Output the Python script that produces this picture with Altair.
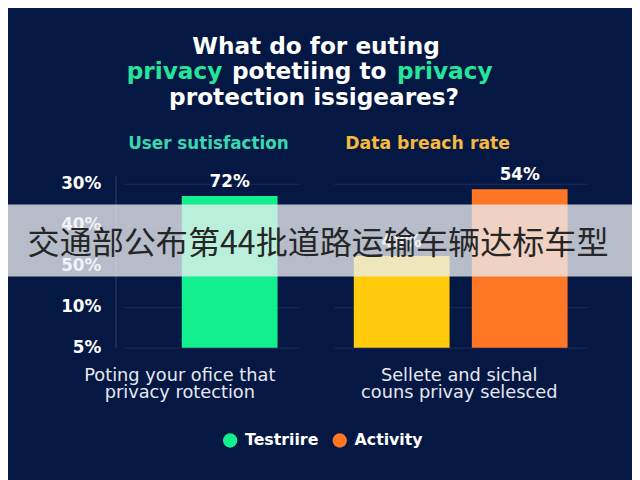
import altair as alt
import pandas as pd

BG = "#051843"

# ---- data ----
panels = ["left", "right", "right"]
series = ["Testriire", "Other", "Activity"]
bar_values = [3.71, 2.24, 3.87]          # heights in axis-step units
bar_labels = ["72%", "48%", "54%"]
bar_colors = ["#12ef8e", "#ffcb0b", "#ff7624"]
y_ticks = [0, 1, 2, 3, 4]
y_tick_labels = ["5%", "10%", "50%", "40%", "30%"]
title_line1 = "What do for euting"
title_line2 = ["privacy", "potetiing to", "privacy"]
title_line3 = "protection issigeares?"
subtitles = ["User sutisfaction", "Data breach rate"]
x_labels_left = ["Poting your ofice that", "privacy rotection"]
x_labels_right = ["Sellete and sichal", "couns privay selesced"]
legend_names = ["Testriire", "Activity"]
banner_text = "交通部公布第44批道路运输车辆达标车型"

df = pd.DataFrame({"panel": panels, "series": series,
                   "value": bar_values, "label": bar_labels})
one = pd.DataFrame({"k": [0]})

W_L, W_R, H = 178, 257, 174
ydom = [0, 4.2]
label_expr = "[" + ",".join("'%s'" % t for t in y_tick_labels) + "][datum.value]"

color_scale = alt.Scale(domain=series, range=bar_colors)
legend = alt.Legend(values=legend_names, orient="none", legendX=100, legendY=260,
                    direction="horizontal", symbolType="circle", symbolSize=210,
                    symbolStrokeWidth=0, title=None, labelColor="white",
                    labelFont="DejaVu Sans", labelFontWeight="bold", labelFontSize=16,
                    labelOffset=7, columnPadding=13, padding=0)

FONT = "DejaVu Sans"


def txt(text, x, y, color="white", size=16, bold=True, align="center",
        baseline="alphabetic", font=FONT):
    return alt.Chart(one).mark_text(
        text=text, color=color, fontSize=size,
        fontWeight="bold" if bold else "normal", align=align,
        baseline=baseline, font=font
    ).encode(x=alt.value(x), y=alt.value(y))


def panel(name, width, axis, pad_outer, align):
    base = alt.Chart(df).transform_filter(f"datum.panel == '{name}'")
    x = alt.X("series:N", sort=series, axis=None,
              scale=alt.Scale(paddingInner=0, paddingOuter=pad_outer, align=align))
    y = alt.Y("value:Q", scale=alt.Scale(domain=ydom, nice=False, zero=True), axis=axis)
    bars = base.mark_bar(size=97).encode(
        x=x, y=y, color=alt.Color("series:N", scale=color_scale, legend=legend))
    labels = base.mark_text(dy=-5, baseline="bottom", color="white", font=FONT,
                            fontWeight="bold", fontSize=17).encode(
        x=x, y=alt.Y("value:Q", scale=alt.Scale(domain=ydom, nice=False)), text="label:N")
    return bars, labels


axis_left = alt.Axis(values=y_ticks, labelExpr=label_expr, offset=8, ticks=False,
                     tickSize=0, labelPadding=15, domain=True, domainColor="#22345f",
                     domainWidth=1.5, grid=True, gridColor="#1b2d5a", labelColor="white",
                     labelFont=FONT, labelFontWeight="bold", labelFontSize=17, title=None)
axis_right = alt.Axis(values=y_ticks, labels=False, ticks=False, domain=False,
                      grid=True, gridColor="#1b2d5a", title=None)

bars_l, labels_l = panel("left", W_L, axis_left, 0.5, 0.708)
bars_r, labels_r = panel("right", W_R, axis_right, 0.075, 0.5)

# invisible frame that fixes the overall extent of the drawing
frame = alt.Chart(one).mark_rect(color=BG, opacity=0).encode(
    x=alt.value(-117), x2=alt.value(515), y=alt.value(-167), y2=alt.value(305))

GREEN_T = "#25e59c"
XL_COLOR = "#e6e8ef"
left_texts = [
    txt(title_line1, 195, -123, size=23.5),
    txt(title_line2[0], 100, -98, color=GREEN_T, size=23.5, align="right"),
    txt(title_line2[1], 188, -98, size=23.5),
    txt(title_line2[2], 277, -98, color=GREEN_T, size=23.5, align="left"),
    txt(title_line3, 193, -72, size=23.5),
    txt(subtitles[0], 86, -27, color="#38d9b0", size=17),
    txt(x_labels_left[0], 57, 203, color=XL_COLOR, size=18, bold=False, baseline="middle"),
    txt(x_labels_left[1], 57, 220, color=XL_COLOR, size=18, bold=False, baseline="middle"),
]

right_texts = [
    txt(subtitles[1], 95, -27, color="#f6b83e", size=17.5),
    txt(x_labels_right[0], 127, 203, color=XL_COLOR, size=18, bold=False, baseline="middle"),
    txt(x_labels_right[1], 127, 220, color=XL_COLOR, size=18, bold=False, baseline="middle"),
]

banner = alt.Chart(one).mark_rect(color="#eceef2", opacity=0.77).encode(
    x=alt.value(-330), x2=alt.value(302), y=alt.value(29), y2=alt.value(102))
banner_txt = txt(banner_text, -16, 69, color="#262626", size=32.5, bold=False,
                 baseline="middle", font="Noto Sans CJK SC")

left = alt.layer(frame, bars_l, labels_l, *left_texts).properties(width=W_L, height=H)
right = alt.layer(bars_r, labels_r, *right_texts, banner, banner_txt).properties(width=W_R, height=H)

chart = alt.hconcat(left, right, spacing=35, bounds="flush").properties(
    padding=0, background=BG
).configure_view(strokeWidth=0)

chart.save("out.html", embed_options={"renderer": "svg", "actions": False})
